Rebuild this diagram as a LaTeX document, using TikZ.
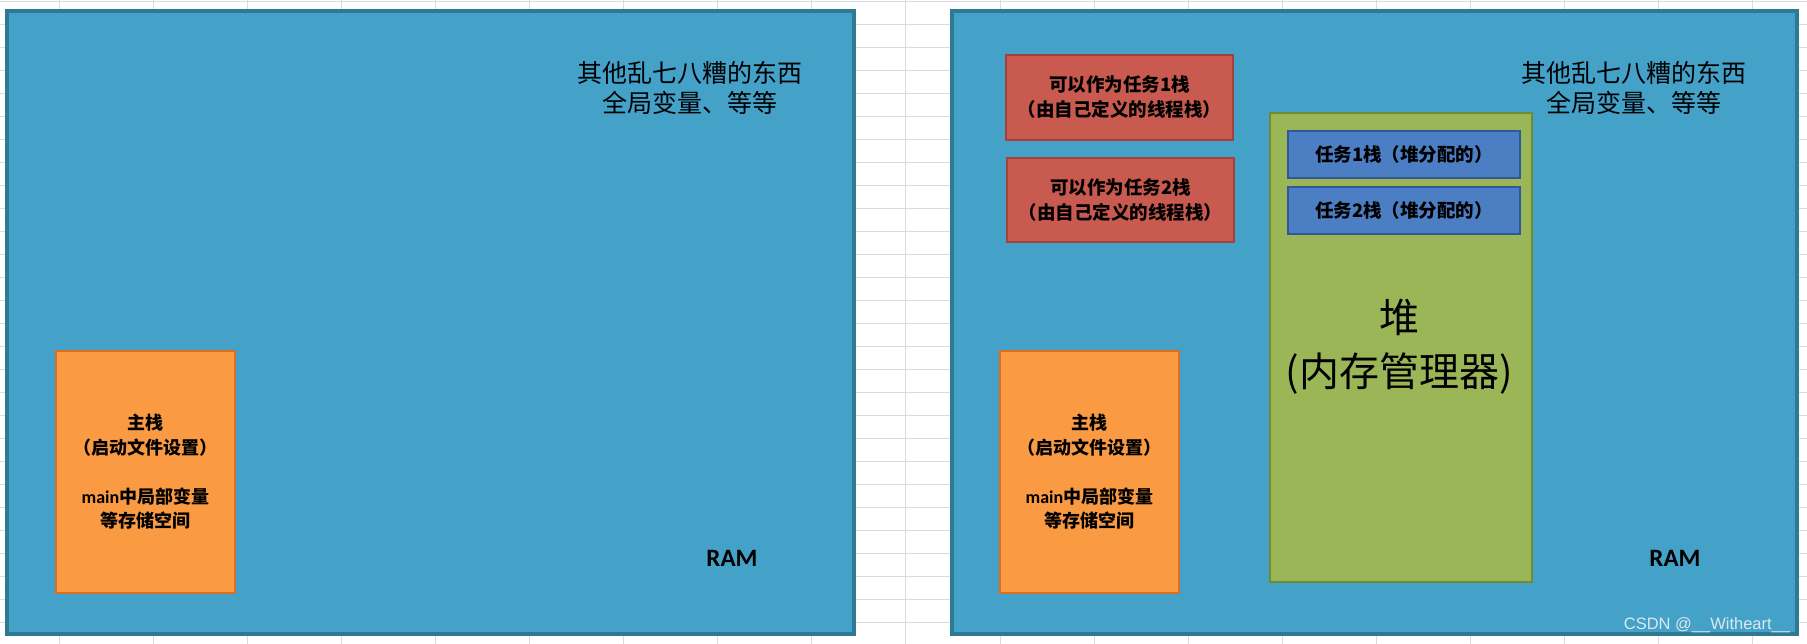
\documentclass[tikz,border=0pt]{standalone}
\usepackage{fontspec}
\setmainfont{Noto Sans CJK SC}
\newfontfamily\carlito{Carlito}
\newfontfamily\arialf{Liberation Sans}
\definecolor{gridc}{HTML}{DADADF}
\definecolor{panelfill}{HTML}{44A2C9}
\definecolor{panelborder}{HTML}{2F7A92}
\definecolor{orangefill}{HTML}{FA9A42}
\definecolor{orangeborder}{HTML}{DC6E22}
\definecolor{redfill}{HTML}{C85A4F}
\definecolor{redborder}{HTML}{A4403C}
\definecolor{greenfill}{HTML}{9BB656}
\definecolor{greenborder}{HTML}{6F8C35}
\definecolor{bluefill}{HTML}{4C7EC4}
\definecolor{blueborder}{HTML}{30579A}
\definecolor{wmark}{HTML}{DCE8EE}
\tikzset{
  gridline/.style={draw=gridc, line width=0.9pt},
  panel/.style={draw=panelborder, fill=panelfill, line width=3.5pt, inner sep=0pt},
  orangebox/.style={draw=orangeborder, fill=orangefill, line width=2.5pt, inner sep=0pt,
    minimum width=179pt, minimum height=242pt, align=center,
    font=\fontsize{18}{24.5}\selectfont\bfseries},
  redbox/.style={draw=redborder, fill=redfill, line width=2.5pt, inner sep=0pt,
    minimum width=227pt, align=center,
    font=\fontsize{18.5}{25}\selectfont\bfseries},
  heapbox/.style={draw=greenborder, fill=greenfill, line width=2.5pt, inner sep=0pt,
    minimum width=262pt, minimum height=469pt},
  bluebox/.style={draw=blueborder, fill=bluefill, line width=2.5pt, inner sep=0pt,
    minimum width=232pt, minimum height=47pt,
    font=\fontsize{18.5}{22}\selectfont\bfseries},
  titletext/.style={align=center, inner sep=0pt, font=\fontsize{25}{30}\selectfont},
  ramtext/.style={inner sep=0pt, font=\carlito\bfseries\fontsize{25}{28}\selectfont},
  heaptext/.style={align=center, inner sep=0pt, font=\fontsize{40}{54}\selectfont},
  wmtext/.style={inner sep=0pt, text=wmark, font=\arialf\fontsize{16.5}{18}\selectfont}
}
\begin{document}
\begin{tikzpicture}[x=1pt, y=-1pt]
\useasboundingbox[fill=white] (0,0) rectangle (1807,644);
% spreadsheet grid
\foreach \i in {0,...,18} \draw[gridline] ({59+94.1*\i},0) -- ({59+94.1*\i},644);
\foreach \j in {0,...,27} \draw[gridline] (0,{1+23.03*\j}) -- (1807,{1+23.03*\j});
% left RAM panel
\node[panel, minimum width=847pt, minimum height=623pt] (ramL) at (430.5,322.5) {};
\node[titletext] (otherL) at (690,88) {其他乱七八糟的东西\\全局变量、等等};
\node[ramtext] (ramLabelL) at (732,558) {RAM};
\node[orangebox] (mainL) at (145.5,472) {主栈\\（启动文件设置）\\[24.5pt]{\carlito\bfseries main}中局部变量\\等存储空间};
% right RAM panel
\node[panel, minimum width=845pt, minimum height=623pt] (ramR) at (1374.5,322.5) {};
\node[titletext] (otherR) at (1634,88) {其他乱七八糟的东西\\全局变量、等等};
\node[ramtext] (ramLabelR) at (1675,558) {RAM};
\node[orangebox] (mainR) at (1089.5,472) {主栈\\（启动文件设置）\\[24.5pt]{\carlito\bfseries main}中局部变量\\等存储空间};
\node[redbox, minimum height=85pt] (task1own) at (1119.5,97.5) {可以作为任务1栈\\（由自己定义的线程栈）};
\node[redbox, minimum height=84pt] (task2own) at (1120.5,200) {可以作为任务2栈\\（由自己定义的线程栈）};
\node[heapbox] (heap) at (1401,347.5) {};
\node[bluebox] (task1heap) at (1404,154.5) {任务1栈（堆分配的）};
\node[bluebox] (task2heap) at (1404,210.5) {任务2栈（堆分配的）};
\node[heaptext] (heapLabel) at (1399,347) {堆\\(内存管理器)};
\node[wmtext] (watermark) at (1707,625) {CSDN @\_\_Witheart\_\_};
\end{tikzpicture}
\end{document}
